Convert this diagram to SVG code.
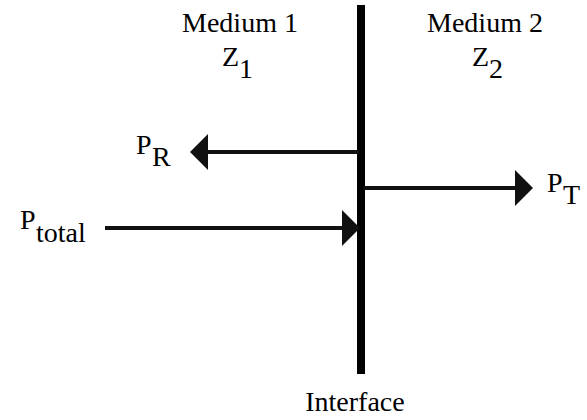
<svg xmlns="http://www.w3.org/2000/svg" width="587" height="420" viewBox="0 0 587 420">
<style>
.ln{stroke:#111;stroke-width:4;fill:none}
.hd{fill:#111}
</style>
<rect width="587" height="420" fill="#fff"/>
<g id="interface">
<rect x="357" y="5" width="8" height="369" fill="#000"/>
<text x="355" y="411" font-size="28" font-family="Liberation Serif" text-anchor="middle">Interface</text>
</g>
<g id="medium1">
<text x="240" y="32" font-size="28" font-family="Liberation Serif" text-anchor="middle">Medium 1</text>
<text x="222" y="66" font-size="28" font-family="Liberation Serif">Z<tspan x="239" y="78">1</tspan></text>
</g>
<g id="medium2">
<text x="485" y="32" font-size="28" font-family="Liberation Serif" text-anchor="middle">Medium 2</text>
<text x="472" y="66" font-size="28" font-family="Liberation Serif">Z<tspan x="489" y="78">2</tspan></text>
</g>
<g id="PR"><text x="136" y="154" font-size="28" font-family="Liberation Serif">P<tspan x="152" y="166">R</tspan></text></g>
<g id="Ptotal"><text x="20" y="229" font-size="28" font-family="Liberation Serif">P<tspan x="36" y="242">total</tspan></text></g>
<g id="PT"><text x="547" y="192" font-size="28" font-family="Liberation Serif">P<tspan x="563" y="204">T</tspan></text></g>
<g id="connectors">
<line class="ln" x1="359" y1="152" x2="206" y2="152"/>
<polygon class="hd" points="190,152 208,134 208,170"/>
<line class="ln" x1="105" y1="228" x2="344" y2="228"/>
<polygon class="hd" points="360,228 342,210 342,246"/>
<line class="ln" x1="363" y1="188" x2="517" y2="188"/>
<polygon class="hd" points="533,188 515,170 515,206"/>
</g>
</svg>
